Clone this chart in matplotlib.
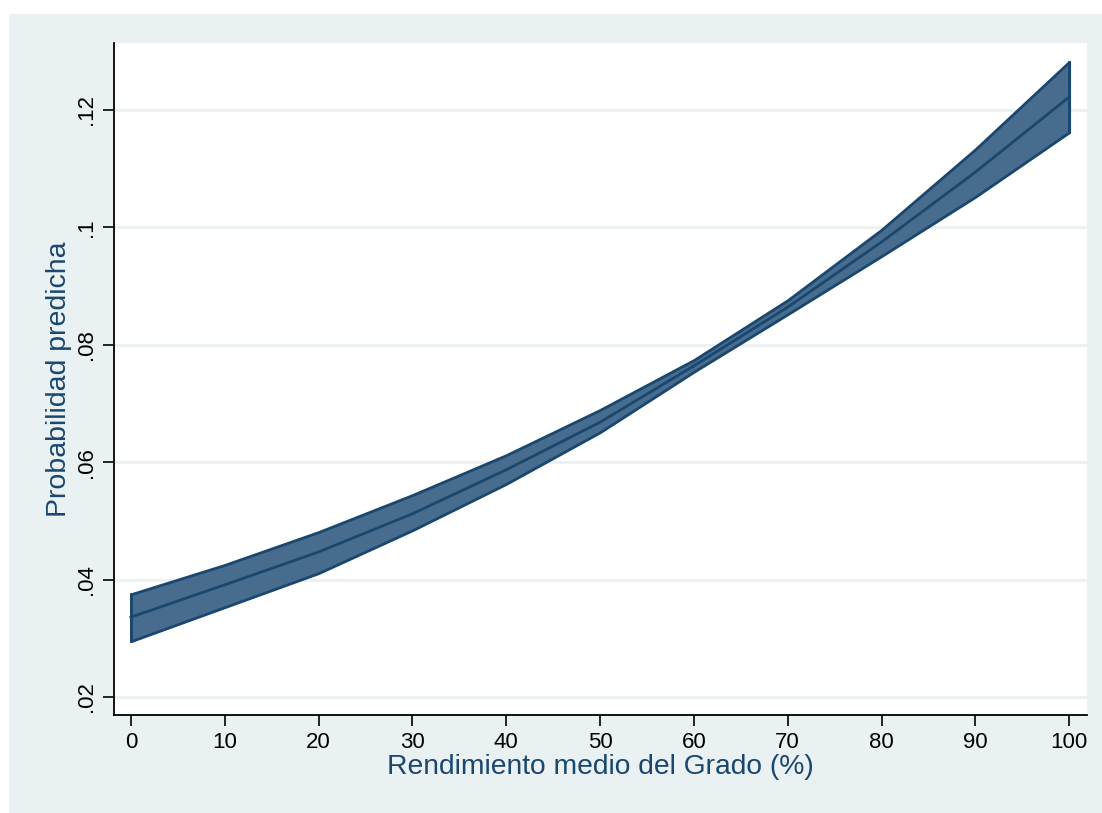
import matplotlib.pyplot as plt
from matplotlib.patches import Rectangle

plt.rcParams['font.family'] = ['Liberation Sans', 'DejaVu Sans']

# valores
rendimiento = [0, 10, 20, 30, 40, 50, 60, 70, 80, 90, 100]
prob = [0.0336, 0.0391, 0.0447, 0.0512, 0.0587, 0.0668, 0.0764, 0.0864, 0.0975, 0.1094, 0.1222]
ic_sup = [0.0375, 0.0425, 0.0481, 0.0544, 0.0612, 0.0689, 0.0774, 0.0876, 0.0996, 0.1133, 0.1282]
ic_inf = [0.0295, 0.0353, 0.0411, 0.0484, 0.0563, 0.0651, 0.0754, 0.0852, 0.0951, 0.1052, 0.1162]

yticks = [0.02, 0.04, 0.06, 0.08, 0.1, 0.12]
yticklabels = ['.02', '.04', '.06', '.08', '.1', '.12']
xticks = [0, 10, 20, 30, 40, 50, 60, 70, 80, 90, 100]

navy = '#1a476f'
relleno = '#486c8e'
fondo = '#eaf1f3'

W, H = 1102, 813
fig = plt.figure(figsize=(W / 100, H / 100), dpi=100)
fig.patch.set_facecolor('white')
fig.patches.append(Rectangle((9 / W, 0), 1 - 9 / W, 1 - 14 / H, transform=fig.transFigure,
                             facecolor=fondo, edgecolor='none', zorder=-10))

ax = fig.add_axes([114 / W, 1 - 715 / H, (1087 - 114) / W, (715 - 43) / H])
ax.set_zorder(1)
ax.set_facecolor('white')

ax.fill_between(rendimiento, ic_inf, ic_sup, facecolor=relleno, edgecolor=navy, linewidth=2, zorder=3)
ax.plot([0, 0], [ic_inf[0], ic_sup[0]], color=navy, lw=2, zorder=4)
ax.plot([100, 100], [ic_inf[-1], ic_sup[-1]], color=navy, lw=2, zorder=4)
ax.plot(rendimiento, prob, color=navy, lw=2, zorder=4)

ax.set_xlim(-1.8, 101.9)
ax.set_ylim(0.01693, 0.1314)

ax.set_yticks(yticks)
ax.set_yticklabels(yticklabels, rotation=90, va='center')
ax.set_xticks(xticks)
ax.tick_params(axis='both', length=8, width=1.2, labelsize=16, color='black', labelcolor='black')
ax.tick_params(axis='x', pad=4)
ax.tick_params(axis='y', pad=4)

ax.grid(axis='y', color=fondo, linewidth=2)
ax.set_axisbelow(True)

for s in ['top', 'right']:
    ax.spines[s].set_visible(False)
for s in ['left', 'bottom']:
    ax.spines[s].set_linewidth(1.3)

ax.set_xlabel('Rendimiento medio del Grado (%)', fontsize=20.3, color=navy, labelpad=1)
ax.set_ylabel('Probabilidad predicha', fontsize=20.5, color=navy, labelpad=3)

fig.savefig('out.png', dpi=100)
